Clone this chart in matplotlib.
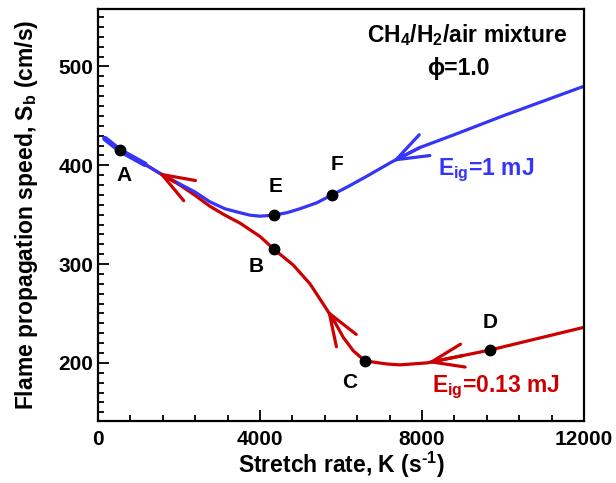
import numpy as np
import matplotlib
matplotlib.use("Agg")
import matplotlib.pyplot as plt
from matplotlib.ticker import MultipleLocator

plt.rcParams['font.family'] = ['Liberation Sans', 'DejaVu Sans']
plt.rcParams['font.weight'] = 'bold'
plt.rcParams['mathtext.fontset'] = 'custom'
plt.rcParams['mathtext.rm'] = 'Liberation Sans:bold'
plt.rcParams['mathtext.it'] = 'Liberation Sans:bold'
plt.rcParams['mathtext.bf'] = 'Liberation Sans:bold'
plt.rcParams['mathtext.default'] = 'rm'

BLUE = '#3535F8'
RED = '#CC0000'

# E_ig = 1 mJ branch
k_blue = [173, 543, 1160, 1481, 2025, 2395, 2765, 3136, 3506, 3753, 4000, 4346,
          4667, 4988, 5400, 5778, 6200, 6642, 7259, 7951, 8800, 10000, 12000]
sb_blue = [427, 415, 401, 393, 381, 373, 363, 356, 352, 349.5, 348.5, 349.5,
           352, 356, 362, 370, 379, 389, 403.5, 418, 431, 450, 480]

# E_ig = 0.13 mJ branch
k_red = [600, 1160, 1481, 2025, 2400, 2765, 3136, 3506, 4000, 4346, 4823, 5235,
         5564, 5852, 6058, 6305, 6593, 7128, 7457, 8123, 9679, 12000]
sb_red = [414, 401, 393, 380, 369.5, 358.5, 349.5, 341.5, 328, 315, 299, 280,
          259.5, 241, 225.8, 212.2, 202, 198.9, 198, 200, 213, 236]

# labelled states
pt_names = ['A', 'B', 'C', 'D', 'E', 'F']
pt_k = [543, 4346, 6593, 9679, 4346, 5778]
pt_sb = [415, 315, 202, 213, 350, 370]
lbl_off = [(4, -25), (-18, -17), (-15, -22), (0, 28), (2, 28), (5, 30)]

# arrows (tip, tail)
arrows = [((7259, 403.5), (7951, 418), BLUE),
          ((1481, 393), (1900, 383), RED),
          ((5654, 254), (5852, 241), RED),
          ((8123, 200), (9000, 207.3), RED)]

fig = plt.figure(figsize=(6.16, 4.83), dpi=100)
ax = fig.add_axes([0.159, 0.128, 0.789, 0.853])

ax.plot(k_red, sb_red, color=RED, lw=2.3, solid_capstyle='round')
ax.plot(k_blue, sb_blue, color=BLUE, lw=2.3, solid_capstyle='round')
ax.plot(k_blue[:3], sb_blue[:3], color=BLUE, lw=4, solid_capstyle='round')

for tip, tail, c in arrows:
    ax.annotate('', xy=tip, xytext=tail,
                arrowprops=dict(arrowstyle='->, head_length=1.15, head_width=0.42',
                                mutation_scale=20, color=c, lw=2.3,
                                shrinkA=0, shrinkB=0))

ax.plot(pt_k, pt_sb, 'o', color='black', ms=7.5, zorder=5)
for n, k, s, off in zip(pt_names, pt_k, pt_sb, lbl_off):
    ax.annotate(n, (k, s), xytext=off, textcoords='offset pixels',
                ha='center', va='center', fontsize=15, fontweight='bold')

ax.text(0.759, 0.920, 'CH$_4$/H$_2$/air mixture', transform=ax.transAxes,
        ha='center', va='baseline', fontsize=16.5, fontweight='bold')
ax.text(0.741, 0.840, '\u03d5=1.0', transform=ax.transAxes,
        ha='center', va='baseline', fontsize=16.5, fontweight='bold')
ax.text(0.70, 0.597, 'E$_{ig}$=1 mJ', transform=ax.transAxes, color=BLUE,
        ha='left', va='baseline', fontsize=16.5, fontweight='bold')
ax.text(0.687, 0.070, 'E$_{ig}$=0.13 mJ', transform=ax.transAxes, color=RED,
        ha='left', va='baseline', fontsize=16.5, fontweight='bold')

ax.set_xlim(0, 12000)
ax.set_ylim(141, 558)
ax.xaxis.set_major_locator(MultipleLocator(4000))
ax.xaxis.set_minor_locator(MultipleLocator(800))
ax.yaxis.set_major_locator(MultipleLocator(100))
ax.yaxis.set_minor_locator(MultipleLocator(10))
ax.tick_params(which='both', direction='in', width=1.3, labelsize=15)
ax.tick_params(which='major', length=8)
ax.tick_params(which='minor', length=4)
ax.tick_params(axis='x', pad=6)
for lab in ax.get_xticklabels() + ax.get_yticklabels():
    lab.set_fontweight('bold')
for sp in ax.spines.values():
    sp.set_linewidth(1.6)

ax.set_xlabel('Stretch rate, K (s$^{\u2010 1}$)', fontsize=16.5, fontweight='bold', labelpad=1)
ax.set_ylabel('Flame propagation speed, S$_b$ (cm/s)', fontsize=16.5,
              fontweight='bold', labelpad=13)

fig.savefig('out.png', dpi=100)
